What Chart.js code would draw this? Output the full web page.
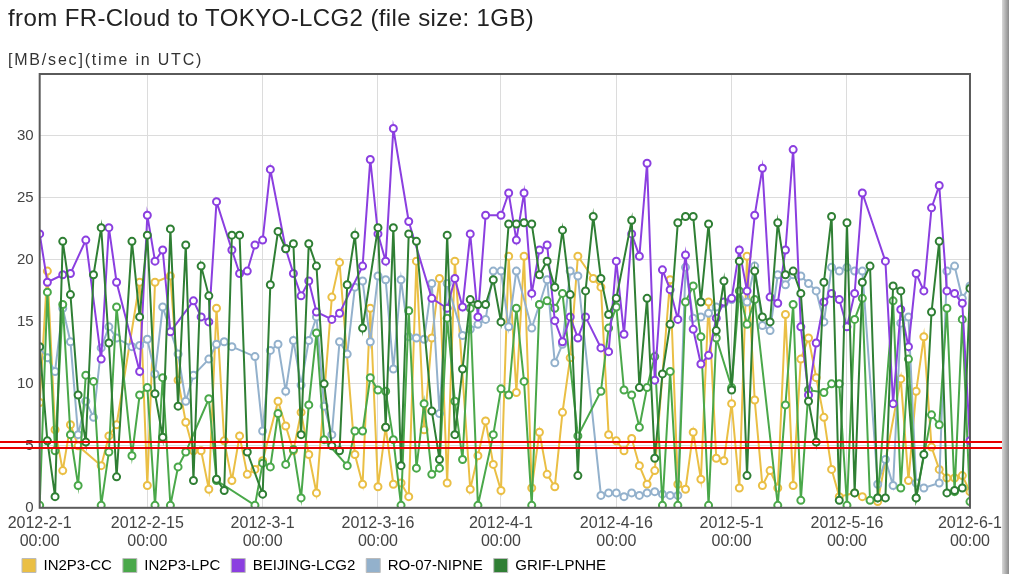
<!DOCTYPE html>
<html>
<head>
<meta charset="utf-8">
<script src="https://cdn.jsdelivr.net/npm/chart.js@4.4.1/dist/chart.umd.min.js"></script>
<style>
  html, body { margin: 0; padding: 0; background: #fff; }
  #wrap { position: relative; width: 1009px; height: 574px; overflow: hidden; }
  #title { position: absolute; left: 8px; top: 4px; font: 24px "Liberation Sans", Arial, sans-serif; letter-spacing: 0.4px; color: #222; white-space: nowrap; }
  #unit { position: absolute; left: 8px; top: 51px; font: 16px "Liberation Sans", Arial, sans-serif; letter-spacing: 1.8px; color: #333; white-space: nowrap; }
  #chart { position: absolute; left: 0; top: 0; }
  #edge { position: absolute; right: 0; top: 0; width: 7px; height: 574px;
          background: linear-gradient(to right, #d8d8d8, #8a8a8a); }
</style>
</head>
<body>
<div id="wrap">
  <canvas id="chart" width="1009" height="583"></canvas>
  <div id="title">from FR-Cloud to TOKYO-LCG2 (file size: 1GB)</div>
  <div id="unit">[MB/sec](time in UTC)</div>
  <div id="edge"></div>
</div>
<script>
//
// ==========  data (day offset from 2012-2-1, MB/sec)  ==========
//
const tickDays = [0, 14, 29, 44, 60, 75, 90, 105, 121];
const tickLabels = ["2012-2-1", "2012-2-15", "2012-3-1", "2012-3-16", "2012-4-1",
                    "2012-4-16", "2012-5-1", "2012-5-16", "2012-6-1"];
const refLines = [5.3, 4.8];

const in2p3cc = [[0,8.5],[1,19.1],[2,6.3],[3,3.0],[4,6.7],[5,5.0],[8,3.4],[9,5.8],[10,6.7],[13,18.2],[14,1.8],[15,18.2],[17,18.7],[18,10.3],[19,6.9],[20,4.6],[21,4.6],[22,1.5],[23,16.1],[24,5.4],[25,2.2],[26,5.8],[27,2.7],[28,3.1],[29,3.8],[31,8.6],[32,6.6],[33,4.6],[34,7.7],[35,4.3],[36,1.2],[38,17.0],[39,19.8],[41,4.3],[42,1.9],[43,16.1],[44,1.7],[45,6.5],[46,1.9],[47,2.0],[48,0.9],[49,19.9],[50,6.3],[51,13.7],[52,18.5],[53,2.0],[54,19.9],[56,1.5],[57,4.2],[58,7.0],[59,3.5],[60,1.4],[61,20.3],[62,9.3],[63,20.3],[64,1.6],[65,6.1],[66,2.7],[67,1.7],[68,7.7],[69,12.1],[70,20.3],[72,18.5],[73,17.8],[74,5.9],[75,5.4],[76,4.6],[77,5.6],[78,3.4],[79,1.9],[80,3.0],[82,18.4],[83,1.9],[84,1.5],[85,6.1],[86,2.3],[87,16.6],[88,4.0],[89,3.8],[90,8.4],[91,1.6],[92,20.3],[93,8.7],[94,1.8],[95,3.0],[96,1.6],[97,15.6],[98,1.8],[99,12.0],[100,13.7],[101,10.5],[102,7.3],[103,3.1],[104,0.9],[106,1.2],[107,0.9],[109,0.5],[112,10.4],[113,2.2],[114,9.4],[115,13.8],[116,4.9],[117,3.1],[118,2.4],[119,2.4],[120,2.6],[121,1.3]];

const in2p3lpc = [[0,0.2],[1,17.4],[2,4.6],[3,16.4],[4,5.9],[5,1.8],[6,10.7],[7,10.2],[8,0.2],[9,4.5],[10,16.2],[12,4.2],[13,9.1],[14,9.7],[15,0.2],[16,10.5],[17,0.2],[18,3.3],[19,4.5],[22,8.8],[23,2.2],[28,0.2],[29,3.6],[30,3.3],[31,7.6],[32,3.5],[33,4.7],[34,0.8],[35,8.3],[36,14.1],[37,5.5],[40,3.4],[41,6.2],[42,6.2],[43,10.5],[44,9.5],[45,9.4],[46,5.5],[47,0.2],[48,15.9],[49,3.2],[50,8.4],[51,2.7],[52,3.2],[53,15.3],[54,8.6],[55,3.9],[56,16.1],[57,0.2],[59,5.9],[60,9.6],[61,9.1],[62,16.1],[63,10.2],[64,0.2],[65,16.4],[66,16.7],[67,16.1],[68,17.3],[70,5.8],[73,9.4],[74,14.5],[75,16.2],[76,9.5],[77,9.1],[78,6.5],[79,9.7],[80,12.2],[81,0.2],[82,11.0],[83,0.2],[84,16.6],[85,17.9],[86,13.8],[87,0.2],[88,13.7],[90,9.7],[91,17.5],[92,14.8],[93,16.8],[96,0.2],[97,8.3],[98,16.4],[99,0.6],[100,9.5],[102,9.3],[103,10.0],[104,10.0],[105,0.2],[106,15.2],[107,16.9],[108,0.6],[109,0.8],[111,16.7],[112,1.6],[113,12.0],[114,0.8],[116,7.5],[117,6.7],[118,16.1],[119,1.3],[120,15.2],[121,0.5]];

const beijing = [[0,22.1],[1,18.2],[3,18.8],[4,18.9],[6,21.6],[8,12.0],[9,22.6],[10,18.2],[13,11.0],[14,23.6],[15,19.9],[16,20.8],[17,14.2],[20,16.7],[21,15.4],[22,15.0],[23,24.7],[25,20.8],[26,18.9],[27,19.1],[28,21.2],[29,21.6],[30,27.3],[32,20.9],[33,18.9],[34,17.1],[35,18.3],[36,15.8],[38,15.2],[39,15.7],[42,19.5],[43,28.1],[44,22.1],[45,19.9],[46,30.6],[48,23.1],[51,16.9],[53,16.1],[54,18.5],[55,16.2],[56,22.1],[57,15.4],[58,23.6],[60,23.6],[61,25.4],[62,21.6],[63,25.4],[64,17.3],[65,20.8],[66,21.2],[67,15.1],[68,13.4],[69,15.4],[70,13.7],[71,15.4],[73,12.9],[74,12.6],[75,19.9],[76,14.0],[77,22.1],[78,20.3],[79,27.8],[80,10.3],[81,19.2],[82,17.6],[83,15.2],[84,20.4],[85,14.4],[86,11.6],[87,12.3],[88,15.3],[89,16.6],[90,16.9],[91,20.8],[92,17.5],[93,23.6],[94,27.4],[95,17.0],[96,16.5],[97,20.8],[98,28.9],[99,14.6],[100,9.1],[101,13.3],[102,16.6],[103,17.3],[104,16.8],[105,14.6],[106,17.3],[107,25.4],[110,19.9],[111,8.4],[112,16.0],[113,13.0],[114,18.9],[115,17.5],[116,24.2],[117,26.0],[118,17.5],[119,17.3],[120,16.5],[121,5.4]];

const ro07 = [[0,12.9],[1,12.1],[2,11.0],[3,16.1],[4,13.4],[5,5.9],[6,8.6],[7,7.3],[8,12.9],[9,14.6],[10,13.7],[12,13.0],[13,13.1],[14,13.6],[15,10.8],[16,16.2],[18,12.4],[19,8.6],[20,10.7],[22,12.0],[23,13.2],[24,13.4],[25,13.0],[28,12.2],[29,6.2],[30,12.7],[31,13.2],[32,9.4],[33,13.5],[34,9.9],[35,13.5],[36,15.4],[37,8.2],[38,5.9],[39,13.4],[40,12.4],[41,17.8],[42,18.3],[43,13.4],[44,18.7],[45,18.4],[46,11.2],[47,18.4],[48,13.8],[49,13.7],[50,13.6],[51,18.1],[52,7.6],[53,18.1],[55,13.9],[56,14.4],[57,14.8],[58,15.2],[59,19.1],[60,19.1],[61,14.6],[62,19.1],[64,14.5],[65,16.4],[66,18.4],[67,11.7],[68,13.2],[69,19.1],[70,18.7],[73,1.0],[74,1.2],[75,1.2],[76,0.9],[77,1.2],[78,1.0],[79,1.2],[80,1.3],[81,1.1],[82,1.0],[83,1.0],[84,19.4],[85,15.3],[86,15.4],[87,15.7],[88,16.2],[89,16.5],[90,16.8],[91,16.9],[92,16.6],[93,19.5],[94,14.7],[95,14.3],[96,18.8],[97,18.0],[98,18.8],[99,18.7],[100,18.1],[101,17.5],[102,15.0],[103,19.4],[104,19.1],[105,19.4],[106,19.1],[107,19.1],[109,1.9],[110,3.9],[111,1.8],[112,14.9],[113,15.4],[114,2.0],[115,1.6],[117,2.0],[118,19.1],[119,19.5],[120,16.9],[121,17.9]];

const grif = [[0,13.0],[1,5.4],[2,0.9],[3,21.5],[4,17.2],[5,9.1],[6,5.3],[7,18.8],[8,22.6],[9,13.3],[10,2.5],[12,21.5],[13,15.4],[14,22.0],[15,9.2],[16,5.7],[17,22.5],[18,8.2],[19,21.2],[20,2.2],[21,19.5],[22,17.1],[23,2.3],[24,1.4],[25,22.0],[26,22.0],[27,4.5],[29,1.1],[30,18.0],[31,22.3],[32,20.9],[33,21.3],[34,5.9],[35,21.3],[36,19.5],[37,10.0],[38,5.0],[39,4.6],[40,18.0],[41,22.0],[42,14.5],[44,22.6],[45,6.5],[46,22.6],[47,3.4],[48,22.1],[49,21.5],[51,7.8],[52,3.9],[53,22.0],[54,5.9],[55,11.2],[56,16.8],[57,16.4],[58,16.4],[59,18.4],[60,15.0],[61,22.9],[62,22.9],[63,23.0],[64,22.9],[65,18.8],[66,19.9],[67,17.8],[68,22.4],[69,17.2],[70,2.6],[71,17.5],[72,23.5],[73,18.5],[74,15.6],[75,16.9],[77,23.2],[78,9.7],[79,16.9],[80,4.0],[81,10.8],[82,14.8],[83,23.0],[84,23.5],[85,23.5],[86,16.6],[87,22.9],[88,14.3],[89,18.3],[90,9.5],[91,19.9],[92,2.6],[93,19.1],[94,15.4],[95,15.0],[96,23.0],[97,18.8],[98,19.1],[99,17.3],[100,8.6],[101,5.3],[102,18.2],[103,23.5],[104,0.6],[105,23.0],[106,1.2],[107,18.2],[108,19.5],[109,0.8],[110,0.8],[111,17.9],[112,17.5],[114,0.8],[115,4.3],[116,15.8],[117,21.5],[118,1.2],[119,1.4],[120,1.6],[121,17.7]];

//
// ==========  plugins  ==========
//
const frame = {
  id: "frame",
  afterDraw(chart) {
    const { ctx, chartArea: a } = chart;
    ctx.save();
    ctx.strokeStyle = "#5a5a5a";
    ctx.lineWidth = 2;
    ctx.strokeRect(a.left, a.top, a.right - a.left, a.bottom - a.top);
    ctx.restore();
  },
};

const redLines = {
  id: "redLines",
  afterDraw(chart) {
    const { ctx, scales } = chart;
    ctx.save();
    ctx.strokeStyle = "#e80000";
    ctx.lineWidth = 2;
    refLines.forEach((v) => {
      const y = Math.round(scales.y.getPixelForValue(v));
      ctx.beginPath();
      ctx.moveTo(0, y);
      ctx.lineTo(chart.width - 6, y);
      ctx.stroke();
    });
    ctx.restore();
  },
};

function series(label, pts, color, order) {
  return {
    label,
    data: pts.map(([d, v]) => ({ x: d, y: v })),
    borderColor: color,
    backgroundColor: color,
    pointBackgroundColor: "#fff",
    pointBorderColor: color,
    pointRadius: 3.5,
    pointBorderWidth: 2,
    borderWidth: 2,
    tension: 0,
    order,
  };
}

const sans = "'Liberation Sans', Arial, sans-serif";

new Chart(document.getElementById("chart"), {
  type: "line",
  data: {
    datasets: [
      series("IN2P3-CC", in2p3cc, "#eabf45", 4),
      series("IN2P3-LPC", in2p3lpc, "#4aa84a", 2),
      series("BEIJING-LCG2", beijing, "#8b3fe0", 1),
      series("RO-07-NIPNE", ro07, "#93b1cc", 3),
      series("GRIF-LPNHE", grif, "#2f7f34", 0),
    ],
  },
  options: {
    responsive: false,
    animation: false,
    layout: { padding: { top: 74, left: 11, right: 0, bottom: 0 } },
    plugins: {
      title: { display: false },
      tooltip: { enabled: false },
      legend: {
        position: "bottom",
        align: "start",
        labels: {
          sort: (a, b) => a.datasetIndex - b.datasetIndex,
          boxWidth: 14,
          boxHeight: 14,
          padding: 11,
          color: "#333",
          font: { family: sans, size: 15 },
          generateLabels(chart) {
            return chart.data.datasets.map((ds, i) => ({
              text: ds.label,
              fillStyle: ds.borderColor,
              strokeStyle: "#bbb",
              lineWidth: 1,
              datasetIndex: i,
            }));
          },
        },
      },
    },
    scales: {
      x: {
        type: "linear",
        min: 0,
        max: 121,
        afterBuildTicks(axis) {
          axis.ticks = tickDays.map((v) => ({ value: v }));
        },
        afterFit(axis) {
          axis.height -= 10;
        },
        ticks: {
          autoSkip: false,
          maxRotation: 0,
          padding: 7,
          color: "#444",
          font: { family: sans, size: 16, lineHeight: 1.1 },
          callback: (v) => [tickLabels[tickDays.indexOf(v)], "00:00"],
        },
        grid: { color: "#dcdcdc", drawTicks: false },
        border: { display: false },
      },
      y: {
        min: 0,
        max: 35,
        ticks: {
          stepSize: 5,
          padding: 6,
          color: "#444",
          font: { family: sans, size: 15 },
          callback: (v) => (v === 35 ? "" : v),
        },
        grid: { color: "#dcdcdc", drawTicks: false },
        border: { display: false },
      },
    },
  },
  plugins: [frame, redLines],
});
</script>
</body>
</html>
